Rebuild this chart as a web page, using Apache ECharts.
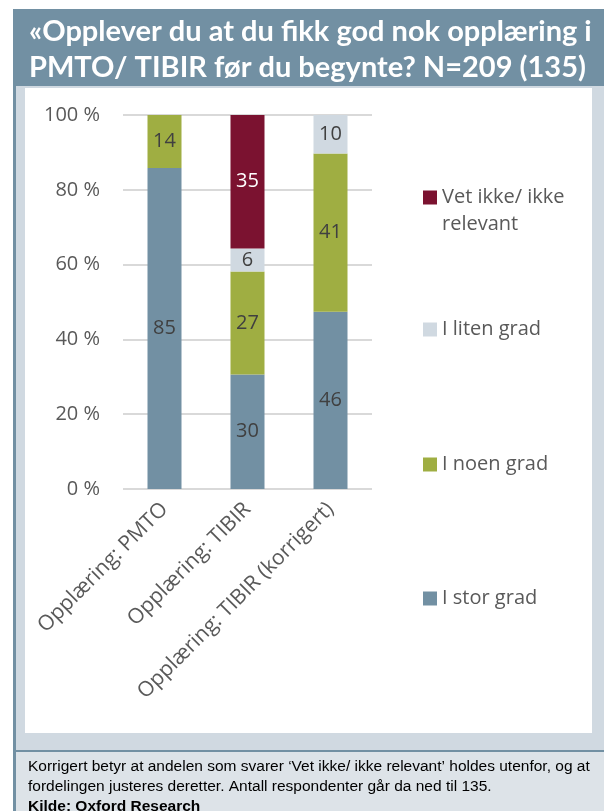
<!DOCTYPE html>
<html>
<head>
<meta charset="utf-8">
<script src="https://cdn.jsdelivr.net/npm/echarts@6/dist/echarts.min.js"></script>
<style>
  html, body { margin: 0; padding: 0; background: #fff; }
  #chart { width: 604px; height: 811px; }
</style>
</head>
<body>
<div id="chart"></div>
<script>
// data
var categories = ['Opplæring: PMTO', 'Opplæring: TIBIR', 'Opplæring: TIBIR (korrigert)'];
var iStorGrad = [85, 30, 46];
var iNoenGrad = [14, 27, 41];
var iLitenGrad = [null, 6, 10];
var vetIkke = [null, 35, null];
var yTicks = [0, 20, 40, 60, 80, 100];

var names = ['I stor grad', 'I noen grad', 'I liten grad', 'Vet ikke/ ikke relevant'];
var colors = ['#7290a3', '#9fae42', '#d0d9e1', '#7b1230'];
var raw = [iStorGrad, iNoenGrad, iLitenGrad, vetIkke];

// 100 % stacked: each column is scaled to its own total
var totals = categories.map(function (c, i) {
  return raw.reduce(function (s, arr) { return s + (arr[i] || 0); }, 0);
});

var font = 'Open Sans';
var grey = '#595959';

var series = raw.map(function (arr, k) {
  return {
    name: names[k],
    type: 'bar',
    stack: 'total',
    barWidth: 34,
    itemStyle: { color: colors[k] },
    label: {
      show: true,
      position: 'inside',
      fontFamily: font,
      fontSize: 20,
      color: k === 3 ? '#ffffff' : '#404040',
      formatter: function (p) { return p.data.raw; }
    },
    data: arr.map(function (v, i) {
      return v == null ? { value: '-', raw: '' } : { value: v / totals[i] * 100, raw: v };
    })
  };
});

// one legend per item so they can sit where the picture has them
var legendTops = [157, 316, 451, 585];
var legendOrder = [3, 2, 1, 0];
var legends = legendOrder.map(function (k, j) {
  var two = k === 3;
  return {
    data: [names[k]],
    orient: 'vertical',
    left: 423,
    top: legendTops[j],
    padding: 0,
    itemWidth: 14,
    itemHeight: 14,
    icon: 'rect',
    selectedMode: false,
    // blank first line keeps the first text line level with the square
    formatter: two ? function () { return ' \nVet ikke/ ikke\nrelevant'; } : null,
    textStyle: { fontFamily: font, fontSize: 20, color: grey, lineHeight: 27 }
  };
});

var chart = echarts.init(document.getElementById('chart'));
chart.setOption({
  animation: false,
  graphic: {
    elements: [
      { type: 'rect', z: -10, shape: { x: 13, y: 9, width: 591, height: 77 }, style: { fill: '#7290a3' } },
      { type: 'rect', z: -10, shape: { x: 13, y: 86, width: 3, height: 725 }, style: { fill: '#7290a3' } },
      { type: 'rect', z: -10, shape: { x: 16, y: 86, width: 588, height: 664 }, style: { fill: '#d0d9e1' } },
      { type: 'rect', z: -9, shape: { x: 25, y: 88, width: 567, height: 645 }, style: { fill: '#ffffff' } },
      { type: 'rect', z: -10, shape: { x: 13, y: 750, width: 591, height: 2 }, style: { fill: '#7290a3' } },
      { type: 'rect', z: -10, shape: { x: 16, y: 752, width: 588, height: 59 }, style: { fill: '#dde3e8' } }
    ]
  },
  title: [
    {
      text: '«Opplever du at du fikk god nok opplæring i\nPMTO/ TIBIR før du begynte? N=209 (135)',
      left: 29,
      top: 14,
      padding: 0,
      textStyle: { color: '#ffffff', fontFamily: 'Lato', fontWeight: 'bold', fontSize: 29, lineHeight: 36 }
    },
    {
      text: '{n|Korrigert betyr at andelen som svarer ‘Vet ikke/ ikke relevant’ holdes utenfor, og at}\n' +
            '{n|fordelingen justeres deretter. Antall respondenter går da ned til 135.}\n' +
            '{b|Kilde: Oxford Research}',
      left: 28,
      top: 757,
      padding: 0,
      textStyle: {
        fontWeight: 'normal',
        rich: {
          n: { fontFamily: 'Liberation Sans', fontSize: 15.5, fontWeight: 'normal', color: '#000', lineHeight: 20 },
          b: { fontFamily: 'Liberation Sans', fontSize: 15.5, fontWeight: 'bold', color: '#000', lineHeight: 20 }
        }
      }
    }
  ],
  legend: legends,
  grid: { left: 123, right: 232, top: 115, bottom: 322 },
  xAxis: {
    type: 'category',
    data: categories,
    axisLine: { show: false },
    axisTick: { show: false },
    axisLabel: { rotate: 45, interval: 0, margin: 17, fontFamily: font, fontSize: 21, color: grey }
  },
  yAxis: {
    type: 'value',
    min: yTicks[0],
    max: yTicks[yTicks.length - 1],
    interval: 20,
    axisLine: { show: false },
    axisTick: { show: false },
    splitLine: { lineStyle: { color: '#d9d9d9', width: 2 } },
    axisLabel: { margin: 23, fontFamily: font, fontSize: 20, color: grey, formatter: '{value} %' }
  },
  series: series
});
</script>
</body>
</html>
